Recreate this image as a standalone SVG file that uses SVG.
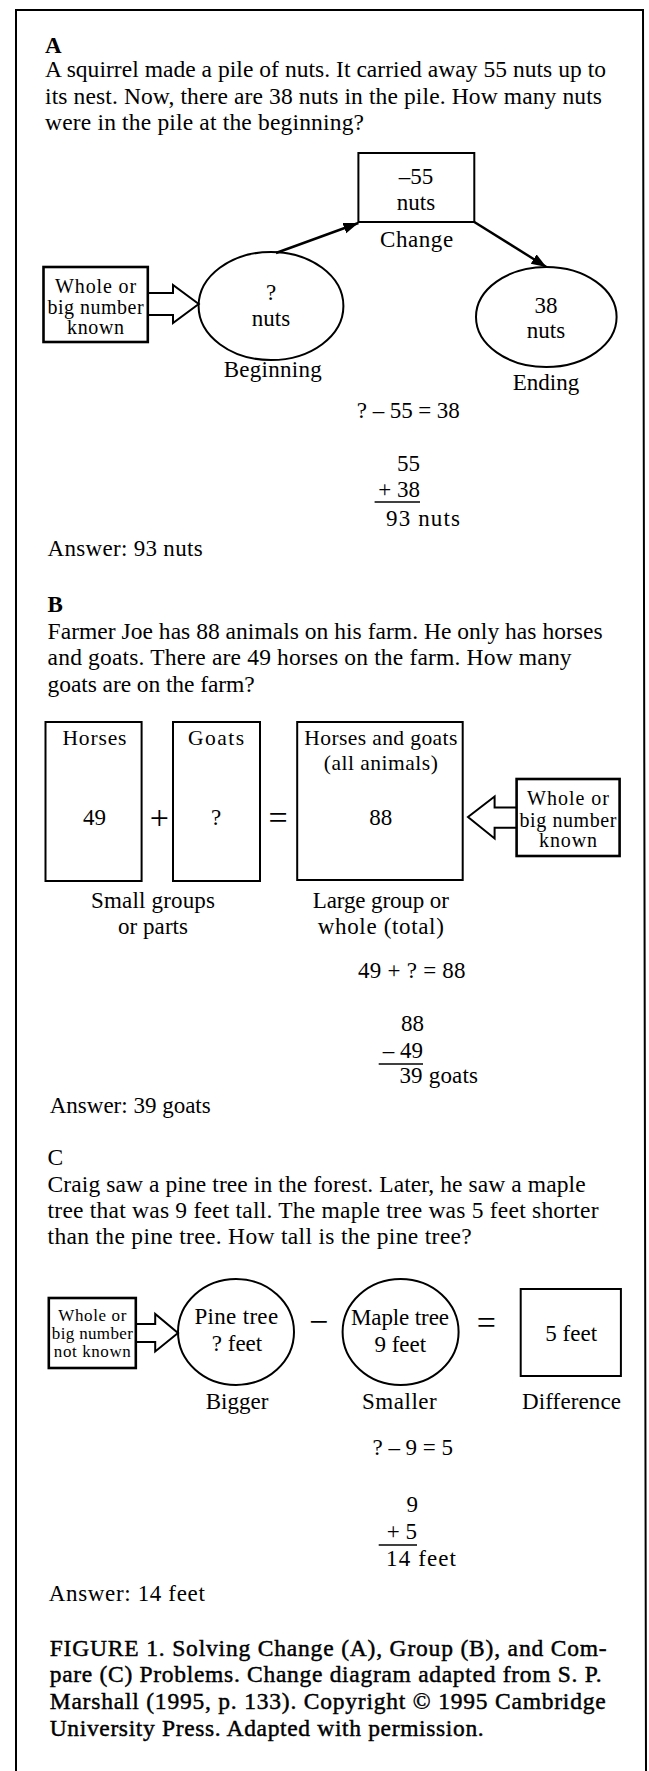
<svg xmlns="http://www.w3.org/2000/svg" width="649" height="1771" viewBox="0 0 649 1771">
<defs>
<marker id="ah" markerUnits="userSpaceOnUse" markerWidth="16" markerHeight="12" refX="15" refY="5.5" orient="auto">
<path d="M0,0 L15,5.5 L0,11 z" fill="#000"/>
</marker>
<style>
text{font-family:"Liberation Serif","Times New Roman",serif;fill:#000;}
.body{font-size:23.5px;}
.head{font-size:23px;font-weight:bold;}
.lbl{font-size:23px;text-anchor:middle;}
.lbl2{font-size:21.5px;text-anchor:middle;}
.wk{font-size:20px;text-anchor:middle;}
.wks{font-size:17px;text-anchor:middle;}
.eq{font-size:23px;}
.sym{font-size:34px;text-anchor:middle;}
.cap{font-size:23.5px;stroke:#000;stroke-width:0.45;}
.shape{fill:none;stroke:#000;stroke-width:2;}
.thick{fill:none;stroke:#000;stroke-width:2.6;}
.conn{fill:none;stroke:#000;stroke-width:2.4;}
.rule{stroke:#000;stroke-width:1.6;}
</style>
</defs>
<rect x="0" y="0" width="649" height="1771" fill="#fff"/>
<g id="frame" fill="none" stroke="#000" stroke-width="2">
<path d="M16,1771 L16,10 L643,10 L646,1771"/>
</g>

<g id="sectionA-text">
<text class="head" x="45" y="53">A</text>
<text class="body" x="45" y="77" textLength="561" lengthAdjust="spacing">A squirrel made a pile of nuts. It carried away 55 nuts up to</text>
<text class="body" x="45" y="104" textLength="557" lengthAdjust="spacing">its nest. Now, there are 38 nuts in the pile. How many nuts</text>
<text class="body" x="45" y="130" textLength="319" lengthAdjust="spacing">were in the pile at the beginning?</text>
</g>

<g id="node-change">
<rect class="shape" x="358.4" y="153" width="115.9" height="69"/>
<text class="lbl" x="416" y="184">–55</text>
<text class="lbl" x="416" y="210">nuts</text>
<text class="lbl" x="416.6" y="247" textLength="73" lengthAdjust="spacing">Change</text>
</g>

<g id="node-beginning">
<ellipse class="shape" cx="271" cy="306" rx="72.4" ry="54"/>
<text class="lbl" x="271" y="300">?</text>
<text class="lbl" x="271" y="326">nuts</text>
<text class="lbl" x="272.7" y="377" textLength="98" lengthAdjust="spacing">Beginning</text>
</g>

<g id="node-ending">
<ellipse class="shape" cx="546.3" cy="317" rx="70.3" ry="50"/>
<text class="lbl" x="546" y="313">38</text>
<text class="lbl" x="546" y="338">nuts</text>
<text class="lbl" x="546" y="390">Ending</text>
</g>

<g id="node-whole-a">
<rect class="thick" x="43.5" y="267" width="104.3" height="75"/>
<text class="wk" x="95.6" y="293" textLength="81" lengthAdjust="spacing">Whole or</text>
<text class="wk" x="95.6" y="313.5" textLength="96" lengthAdjust="spacing">big number</text>
<text class="wk" x="95.6" y="334" textLength="57" lengthAdjust="spacing">known</text>
</g>

<g id="equations-a">
<text class="eq" x="356.8" y="418" textLength="103" lengthAdjust="spacing">? – 55 = 38</text>
<text class="eq" x="420" y="471" text-anchor="end">55</text>
<text class="eq" x="420" y="497" text-anchor="end">+ 38</text>
<line class="rule" x1="374.6" y1="502" x2="420" y2="502"/>
<text class="eq" x="386" y="526" textLength="74" lengthAdjust="spacing">93 nuts</text>
<text class="eq" x="47.6" y="556" textLength="155" lengthAdjust="spacing">Answer: 93 nuts</text>
</g>

<g id="sectionB-text">
<text class="head" x="47.6" y="612">B</text>
<text class="body" x="47.6" y="639" textLength="555" lengthAdjust="spacing">Farmer Joe has 88 animals on his farm. He only has horses</text>
<text class="body" x="47.6" y="665" textLength="524" lengthAdjust="spacing">and goats. There are 49 horses on the farm. How many</text>
<text class="body" x="47.6" y="692" textLength="207" lengthAdjust="spacing">goats are on the farm?</text>
</g>

<g id="node-horses">
<rect class="shape" x="45.5" y="722" width="96.1" height="159"/>
<text class="lbl2" x="94.4" y="744.5" textLength="64" lengthAdjust="spacing">Horses</text>
<text class="lbl" x="94.4" y="825">49</text>
</g>
<g id="node-goats">
<rect class="shape" x="173" y="722" width="87" height="159"/>
<text class="lbl2" x="216" y="744.5" textLength="56" lengthAdjust="spacing">Goats</text>
<text class="lbl" x="216" y="825">?</text>
</g>
<g id="node-total">
<rect class="shape" x="297.2" y="722" width="165.5" height="158"/>
<text class="lbl2" x="380.8" y="744.5" textLength="153" lengthAdjust="spacing">Horses and goats</text>
<text class="lbl2" x="380.8" y="770" textLength="114" lengthAdjust="spacing">(all animals)</text>
<text class="lbl" x="380.8" y="825">88</text>
</g>
<g id="symbols-b">
<text class="sym" x="159.4" y="829">+</text>
<text class="sym" x="278" y="829">=</text>
</g>
<g id="node-whole-b">
<rect class="thick" x="516.6" y="779" width="103" height="77"/>
<text class="wk" x="568" y="805" textLength="82" lengthAdjust="spacing">Whole or</text>
<text class="wk" x="568" y="827" textLength="97" lengthAdjust="spacing">big number</text>
<text class="wk" x="568" y="847" textLength="58" lengthAdjust="spacing">known</text>
</g>
<g id="labels-b">
<text class="lbl" x="153" y="908" textLength="124" lengthAdjust="spacing">Small groups</text>
<text class="lbl" x="153" y="934" textLength="70" lengthAdjust="spacing">or parts</text>
<text class="lbl" x="380.8" y="908" textLength="136" lengthAdjust="spacing">Large group or</text>
<text class="lbl" x="380.8" y="934" textLength="126" lengthAdjust="spacing">whole (total)</text>
</g>
<g id="equations-b">
<text class="eq" x="358" y="978" textLength="107.6" lengthAdjust="spacing">49 + ? = 88</text>
<text class="eq" x="424" y="1031" text-anchor="end">88</text>
<text class="eq" x="423" y="1058" text-anchor="end">– 49</text>
<line class="rule" x1="378.7" y1="1064" x2="423" y2="1064"/>
<text class="eq" x="399.4" y="1083" textLength="78.6" lengthAdjust="spacing">39 goats</text>
<text class="eq" x="49.7" y="1113" textLength="161" lengthAdjust="spacing">Answer: 39 goats</text>
</g>

<g id="sectionC-text">
<text class="body" x="47.6" y="1165">C</text>
<text class="body" x="47.6" y="1192" textLength="538" lengthAdjust="spacing">Craig saw a pine tree in the forest. Later, he saw a maple</text>
<text class="body" x="47.6" y="1218" textLength="551" lengthAdjust="spacing">tree that was 9 feet tall. The maple tree was 5 feet shorter</text>
<text class="body" x="47.6" y="1244" textLength="424" lengthAdjust="spacing">than the pine tree. How tall is the pine tree?</text>
</g>

<g id="node-whole-c">
<rect class="thick" x="48.8" y="1298" width="87" height="70"/>
<text class="wks" x="92.3" y="1321" textLength="68" lengthAdjust="spacing">Whole or</text>
<text class="wks" x="92.3" y="1339" textLength="81" lengthAdjust="spacing">big number</text>
<text class="wks" x="92.3" y="1356.5" textLength="77" lengthAdjust="spacing">not known</text>
</g>
<g id="node-pine">
<ellipse class="shape" cx="236" cy="1332" rx="58" ry="53"/>
<text class="lbl" x="236.3" y="1324" textLength="83.6" lengthAdjust="spacing">Pine tree</text>
<text class="lbl" x="237" y="1351">? feet</text>
<text class="lbl" x="237" y="1408.5">Bigger</text>
</g>
<g id="node-maple">
<ellipse class="shape" cx="400.6" cy="1332" rx="58" ry="53"/>
<text class="lbl" x="400" y="1325" textLength="98" lengthAdjust="spacing">Maple tree</text>
<text class="lbl" x="400.3" y="1352">9 feet</text>
<text class="lbl" x="399.4" y="1408.5" textLength="74.7" lengthAdjust="spacing">Smaller</text>
</g>
<g id="node-difference">
<rect class="shape" x="520.7" y="1289" width="100.2" height="87"/>
<text class="lbl" x="571.2" y="1341">5 feet</text>
<text class="lbl" x="571.5" y="1408.5" textLength="99" lengthAdjust="spacing">Difference</text>
</g>
<g id="symbols-c">
<text class="sym" x="318.7" y="1333">−</text>
<text class="sym" x="486.3" y="1334">=</text>
</g>
<g id="equations-c">
<text class="eq" x="372.5" y="1455" textLength="80.5" lengthAdjust="spacing">? – 9 = 5</text>
<text class="eq" x="418" y="1512" text-anchor="end">9</text>
<text class="eq" x="417" y="1539" text-anchor="end">+ 5</text>
<line class="rule" x1="378.7" y1="1545" x2="417" y2="1545"/>
<text class="eq" x="386" y="1566" textLength="70" lengthAdjust="spacing">14 feet</text>
<text class="eq" x="48.8" y="1601" textLength="156" lengthAdjust="spacing">Answer: 14 feet</text>
</g>

<g id="caption">
<text class="cap" x="49.7" y="1656" textLength="557" lengthAdjust="spacing">FIGURE 1. Solving Change (A), Group (B), and Com-</text>
<text class="cap" x="49.7" y="1682" textLength="552" lengthAdjust="spacing">pare (C) Problems. Change diagram adapted from S. P.</text>
<text class="cap" x="49.7" y="1709" textLength="556" lengthAdjust="spacing">Marshall (1995, p. 133). Copyright © 1995 Cambridge</text>
<text class="cap" x="49.7" y="1736" textLength="434" lengthAdjust="spacing">University Press. Adapted with permission.</text>
</g>

<g id="connectors">
<line class="conn" x1="276" y1="253" x2="358.4" y2="223" marker-end="url(#ah)"/>
<line class="conn" x1="474.3" y1="222" x2="546.4" y2="267" marker-end="url(#ah)"/>
<path class="shape" d="M147.8,293 H173 V285 L198.7,304 L173,323 V315 H147.8"/>
<path class="shape" d="M516.6,807.6 H494.6 V796.5 L468,817 L494.6,838.5 V827.7 H516.6"/>
<path class="shape" d="M135.8,1324 H155.2 V1314 L178,1333 L155.2,1351.5 V1342 H135.8"/>
</g>
</svg>
